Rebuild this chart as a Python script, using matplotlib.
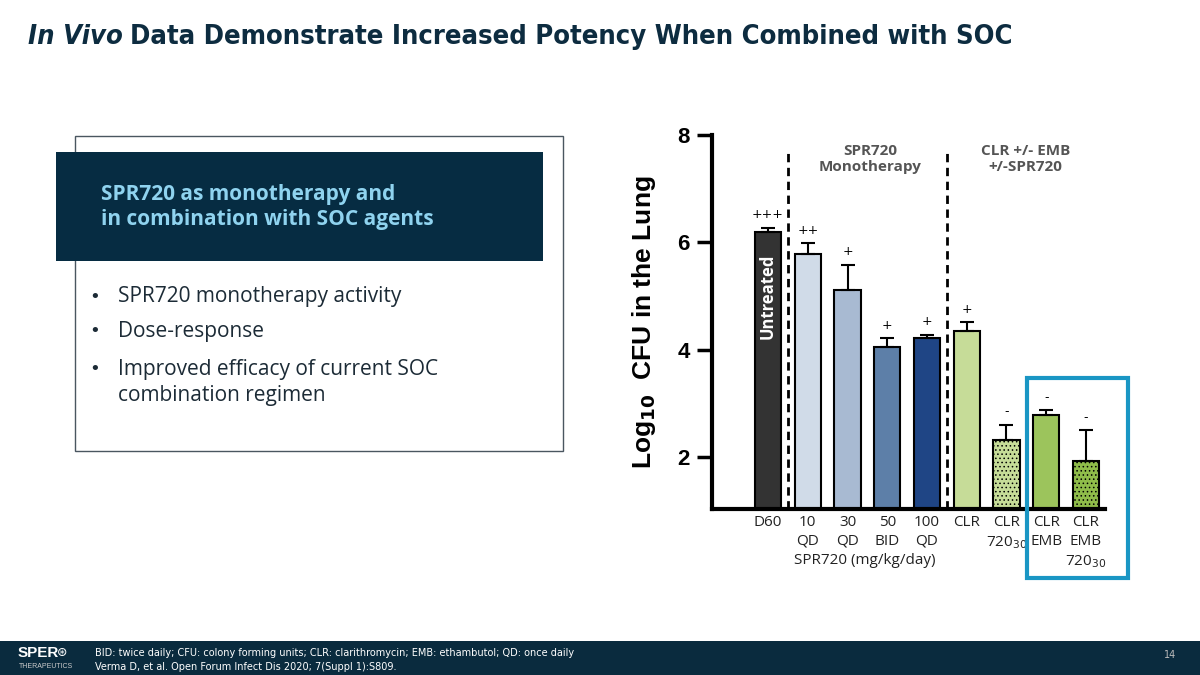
import matplotlib
matplotlib.use('Agg')
from matplotlib import pyplot as plt
from matplotlib.patches import Rectangle
from matplotlib.lines import Line2D

# data
groups = ['D60', '10\nQD', '30\nQD', '50\nBID', '100\nQD', 'CLR',
          'CLR\n720$_{30}$', 'CLR\nEMB', 'CLR\nEMB\n720$_{30}$']
cfu = [6.20, 5.78, 5.12, 4.05, 4.21, 4.34, 2.32, 2.78, 1.93]
err = [0.07, 0.20, 0.46, 0.16, 0.07, 0.17, 0.28, 0.09, 0.57]
marks = ['+++', '++', '+', '+', '+', '+', '-', '-', '-']
colors = ['#333333', '#d0dbe8', '#a8bad2', '#5d7fa8', '#1f4585',
          '#c6dc98', '#c6dc98', '#9cc45c', '#8fbc4a']
hatches = [None, None, None, None, None, None, '....', None, '....']

bullets = ['SPR720 monotherapy activity', 'Dose-response',
           'Improved efficacy of current SOC', 'combination regimen']
bullet_y = [297, 331, 369, 396]
has_dot = [True, True, True, False]

W, H = 1200, 675
navy = '#0a2b3e'
plt.rcParams['hatch.linewidth'] = 0.6


def fx(x):
    return x / W


def fy(y):
    return 1 - y / H


fig = plt.figure(figsize=(12, 6.75), dpi=100)
fig.patch.set_facecolor('white')

# title
t1 = fig.text(fx(28), fy(37), 'In Vivo', fontsize=19.6, fontweight='bold', style='italic',
              color='#0d2c40', va='center', ha='left', family='DejaVu Sans', fontstretch='condensed')
fig.canvas.draw()
bb = t1.get_window_extent()
fig.text(bb.x1 / W + 0.006, fy(37), 'Data Demonstrate Increased Potency When Combined with SOC',
         fontsize=19.6, fontweight='bold', color='#0d2c40', va='center', ha='left',
         family='DejaVu Sans', fontstretch='condensed')

# left text panel
fig.patches.append(Rectangle((fx(75), fy(451)), fx(563 - 75), (451 - 136) / H, transform=fig.transFigure,
                             fill=False, edgecolor='#4a5660', lw=1))
fig.patches.append(Rectangle((fx(56), fy(261)), fx(543 - 56), (261 - 152) / H, transform=fig.transFigure,
                             facecolor='#062c42', edgecolor='none'))
fig.text(fx(101), fy(207), 'SPR720 as monotherapy and\nin combination with SOC agents', fontsize=15,
         fontweight='bold', color='#8fd3ef', va='center', ha='left', linespacing=1.3,
         family='Open Sans')
for yy, b, d in zip(bullet_y, bullets, has_dot):
    if d:
        fig.text(fx(89), fy(yy), '•', fontsize=13, color='#1c2b36', va='center', ha='left',
                 family='DejaVu Sans')
    fig.text(fx(118), fy(yy), b, fontsize=15, color='#1c2b36', va='center', ha='left',
             family='Open Sans')

# chart
ax = fig.add_axes([fx(712), fy(509), fx(1105 - 712), (509 - 135) / H])
x = list(range(len(groups)))
for i in x:
    ax.bar(i, cfu[i], width=0.66, color=colors[i], edgecolor='black', lw=1.5,
           hatch=hatches[i], zorder=2)
    ax.errorbar(i, cfu[i], yerr=[[0], [err[i]]], fmt='none', ecolor='black',
                elinewidth=1.5, capsize=5, capthick=1.5, zorder=3)
    ax.text(i, cfu[i] + err[i] + 0.12, marks[i], ha='center', va='bottom', fontsize=9,
            family='DejaVu Sans')

ax.set_xlim(-1.41, 8.48)
ax.set_ylim(1.03, 8)
ax.set_yticks([2, 4, 6, 8])
ax.set_yticklabels(['2', '4', '6', '8'], fontsize=16, fontweight='bold', family='Liberation Sans')
ax.tick_params(axis='y', length=11, width=2.5, pad=5)
ax.set_xticks(x)
ax.set_xticklabels(groups, fontsize=11, family='Open Sans', color='#222222', linespacing=1.4)
ax.tick_params(axis='x', length=0, pad=4)
for s in ['top', 'right']:
    ax.spines[s].set_visible(False)
ax.spines['left'].set_linewidth(3)
ax.spines['bottom'].set_linewidth(3)
ax.set_ylabel(r'Log$_{\mathbf{10}}$  CFU in the Lung', fontsize=19, fontweight='bold',
              family='Liberation Sans', labelpad=14)

for xv in [0.5, 4.5]:
    ax.plot([xv, xv], [1.03, 7.76], ls=(0, (3, 2)), color='black', lw=2, zorder=1)

ax.text(2.57, 7.55, 'SPR720\nMonotherapy', ha='center', va='center', fontsize=11,
        fontweight='bold', color='#555555', family='Open Sans', linespacing=1.2)
ax.text(6.47, 7.55, 'CLR +/- EMB\n+/-SPR720', ha='center', va='center', fontsize=11,
        fontweight='bold', color='#555555', family='Open Sans', linespacing=1.2)
ax.text(0, 5.0, 'Untreated', rotation=90, ha='center', va='center', fontsize=12,
        fontweight='bold', color='white', family='Open Sans')

# dose group label
fig.lines.append(Line2D([fx(795), fx(935)], [fy(548), fy(548)], color='#888888', lw=1.2))
fig.text(fx(865), fy(561), 'SPR720 (mg/kg/day)', ha='center', va='center', fontsize=11,
         family='Open Sans', color='#222222')

# highlight box
fig.patches.append(Rectangle((fx(1027), fy(578)), fx(1128 - 1027), (578 - 378) / H,
                             transform=fig.transFigure, fill=False, edgecolor='#1a96c4', lw=3))

# footer
fig.patches.append(Rectangle((0, 0), 1, 34 / H, transform=fig.transFigure,
                             facecolor=navy, edgecolor='none'))
fig.text(fx(18), fy(653), 'SPER', fontsize=11, fontweight='bold', color='white', va='center',
         family='Liberation Sans')
fig.text(fx(57), fy(653), '\u229b', fontsize=9, color='white', va='center', family='DejaVu Sans')
fig.text(fx(19), fy(667), 'THERAPEUTICS', fontsize=5, color='#cccccc', va='center',
         family='Liberation Sans')
fig.text(fx(95), fy(653), 'BID: twice daily; CFU: colony forming units; CLR: clarithromycin; '
         'EMB: ethambutol; QD: once daily', fontsize=7, color='white', va='center',
         family='DejaVu Sans')
fig.text(fx(95), fy(667), 'Verma D, et al. Open Forum Infect Dis 2020; 7(Suppl 1):S809.',
         fontsize=7, color='white', va='center', family='DejaVu Sans')
fig.text(fx(1170), fy(655), '14', fontsize=7, color='#bbbbbb', va='center', ha='center',
         family='DejaVu Sans')

fig.savefig('out.png', dpi=100)
